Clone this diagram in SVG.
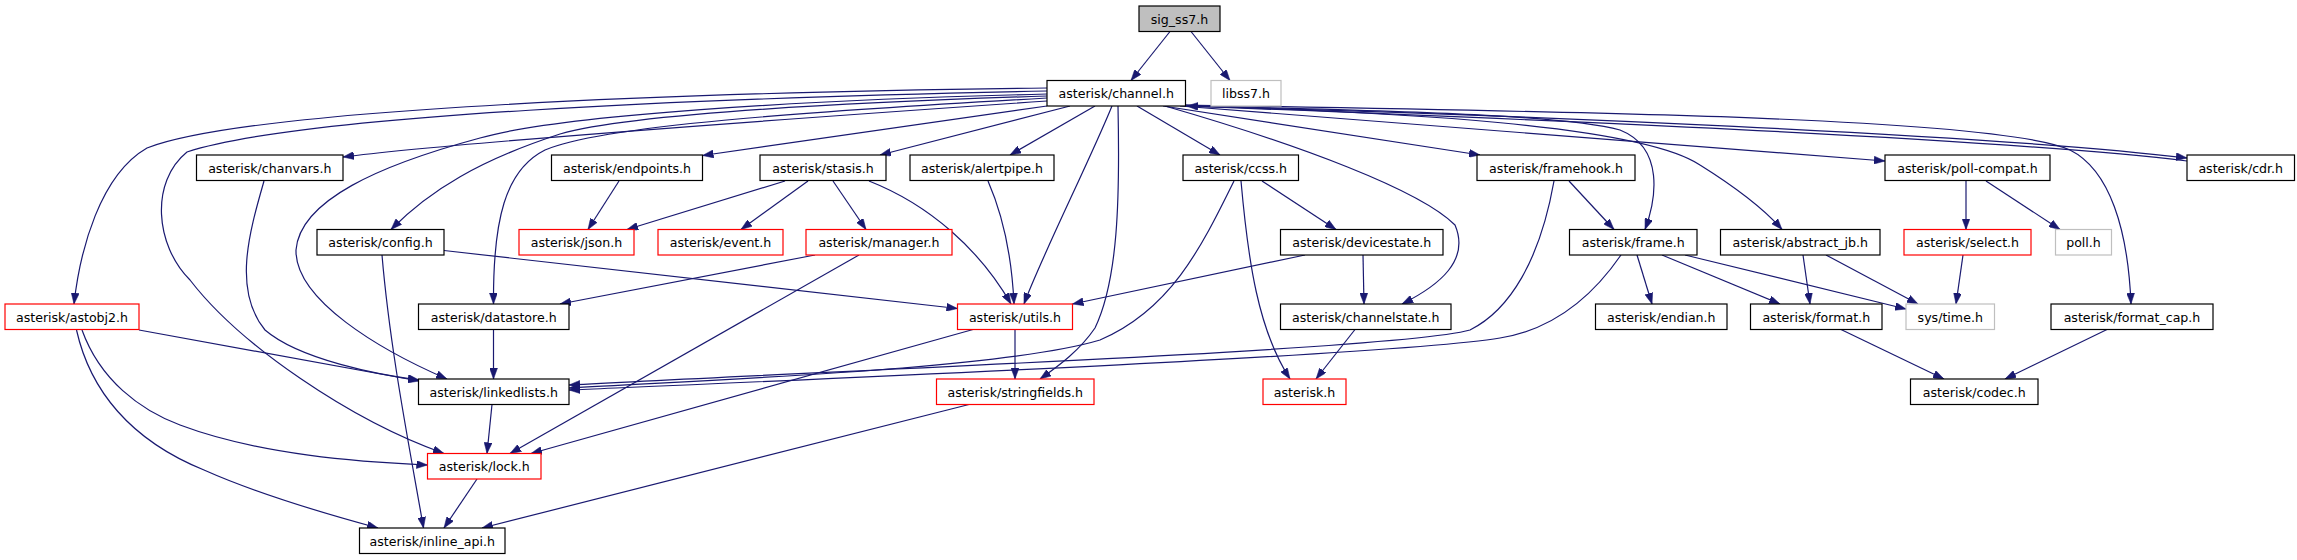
<svg xmlns="http://www.w3.org/2000/svg" width="2297" height="560" viewBox="0 0 2297 560">
<style>
.n rect{fill:#ffffff;stroke:#000000;stroke-width:1.2}
.n.red rect{stroke:#ff0000}
.n.gray rect{stroke:#bfbfbf}
.n.root rect{fill:#bfbfbf}
.n text{font-family:"DejaVu Sans",sans-serif;font-size:12.6px;fill:#000000;text-anchor:middle}
#edges path{fill:none;stroke:#191970;stroke-width:1.2;marker-end:url(#ah)}
</style>
<defs>
<marker id="ah" markerUnits="userSpaceOnUse" markerWidth="11" markerHeight="8" refX="11" refY="4" orient="auto">
<path d="M0,0 L11,4 L0,8 z" fill="#191970" stroke="#191970" stroke-width="0.5"/>
</marker>
</defs>
<rect width="2297" height="560" fill="#ffffff"/>
<g id="edges">
<path d="M1170,31.5 L1131,80.5"/>
<path d="M1191,31.5 L1230,80.5"/>
<path d="M1047,88 C700,92 250,108 147,148 C100,175 80,250 74,304"/>
<path d="M1047,91 C700,98 300,115 187,152 C150,182 155,245 190,280 C240,345 350,420 444,453.5"/>
<path d="M1047,101 C800,118 450,143 343,157"/>
<path d="M1047,94 C800,100 560,115 480,138 C380,165 300,200 296,250 C295,300 380,350 447,379"/>
<path d="M1047,96 C800,104 620,117 560,134 C480,160 430,190 391,229.5"/>
<path d="M1047,98 C800,112 600,126 545,150 C505,170 493,220 493.5,304"/>
<path d="M1047,106 L702.5,155.5"/>
<path d="M1070,106 L880,155"/>
<path d="M1095,106 L1010,155"/>
<path d="M1112,106 C1090,160 1040,260 1024,304"/>
<path d="M1118,106 C1120,200 1118,280 1095,328 C1080,350 1060,365 1040,379"/>
<path d="M1137,106 L1220,155"/>
<path d="M1165,106 C1300,145 1420,190 1455,225 C1470,260 1440,285 1402,304"/>
<path d="M1163,106 L1480,155"/>
<path d="M1185,105 C1300,110 1550,111 1620,130 C1665,148 1656,200 1645,229.5"/>
<path d="M1185,106 C1400,112 1640,125 1700,165 C1740,190 1765,210 1782,229.5"/>
<path d="M1180,106 L1885,161"/>
<path d="M1185,106 C1500,114 2000,135 2187,158"/>
<path d="M2187,161 C2000,138 1500,118 1187,106"/>
<path d="M1185,105 C1600,112 2000,118 2070,150 C2110,170 2128,230 2131,304"/>
<path d="M264,181 C250,230 232,290 265,330 C300,360 380,375 419,380"/>
<path d="M619,181 L588,229.5"/>
<path d="M785,181 L627,229.5"/>
<path d="M808,181 L741,229.5"/>
<path d="M833,181 L866,229.5"/>
<path d="M869,181 C930,205 980,250 1011,304"/>
<path d="M988,181 C1005,220 1012,260 1014,304"/>
<path d="M444,250.5 L957.5,308.5"/>
<path d="M382,255 C390,350 410,450 423.5,528"/>
<path d="M815,255 L560,304"/>
<path d="M859,255 L510,453.5"/>
<path d="M1262,181 L1336,229.5"/>
<path d="M1241,181 C1248,260 1258,330 1290,379"/>
<path d="M1234,181 C1200,250 1170,310 1100,340 C1000,370 700,380 569,388"/>
<path d="M1305,255 L1072.5,304"/>
<path d="M1363,255 L1364,304"/>
<path d="M1355,329.5 L1316,379"/>
<path d="M1569,181 L1614,229.5"/>
<path d="M1554,181 C1540,260 1510,310 1470,330 C1400,350 800,372 569,385"/>
<path d="M1621,255 C1590,300 1550,330 1500,338 C1400,355 800,380 569,390"/>
<path d="M1637,255 L1652,304"/>
<path d="M1662,255 L1780,304"/>
<path d="M1685,255 L1906,309"/>
<path d="M1803,255 L1810,304"/>
<path d="M1826,255 L1918,304"/>
<path d="M1966,181 L1966,229.5"/>
<path d="M1986,181 L2060,229.5"/>
<path d="M1963,255 L1956,304"/>
<path d="M1841,329.5 L1944,379"/>
<path d="M2107,329.5 L2005,379"/>
<path d="M139,330 L419,381"/>
<path d="M82,330 C100,380 140,410 180,425 C260,455 360,462 427.5,465"/>
<path d="M76.5,330 C90,390 130,440 204,470 C260,495 330,515 378,528"/>
<path d="M493.5,329.5 L493.5,379"/>
<path d="M492,404.5 L487,453.5"/>
<path d="M477,479 L444,528"/>
<path d="M1015,329.5 L1015,379"/>
<path d="M973,329.5 L531,453.5"/>
<path d="M969,404.5 L482,528"/>
</g>
<g id="n_sig" class="n root"><rect x="1139" y="6" width="81" height="25.5"/><text x="1179.5" y="23.8">sig_ss7.h</text></g>
<g id="n_channel" class="n"><rect x="1047" y="80.5" width="138.5" height="25.5"/><text x="1116.25" y="98.3">asterisk/channel.h</text></g>
<g id="n_libss7" class="n gray"><rect x="1211" y="80.5" width="70" height="25.5"/><text x="1246" y="98.3">libss7.h</text></g>
<g id="n_chanvars" class="n"><rect x="196.5" y="155" width="146.5" height="25.5"/><text x="269.75" y="172.8">asterisk/chanvars.h</text></g>
<g id="n_endpoints" class="n"><rect x="551.5" y="155" width="151" height="25.5"/><text x="627" y="172.8">asterisk/endpoints.h</text></g>
<g id="n_stasis" class="n"><rect x="760" y="155" width="126" height="25.5"/><text x="823" y="172.8">asterisk/stasis.h</text></g>
<g id="n_alertpipe" class="n"><rect x="910" y="155" width="144" height="25.5"/><text x="982" y="172.8">asterisk/alertpipe.h</text></g>
<g id="n_ccss" class="n"><rect x="1183" y="155" width="115.5" height="25.5"/><text x="1240.75" y="172.8">asterisk/ccss.h</text></g>
<g id="n_framehook" class="n"><rect x="1477" y="155" width="158" height="25.5"/><text x="1556" y="172.8">asterisk/framehook.h</text></g>
<g id="n_pollcompat" class="n"><rect x="1885" y="155" width="165" height="25.5"/><text x="1967.5" y="172.8">asterisk/poll-compat.h</text></g>
<g id="n_cdr" class="n"><rect x="2187" y="155" width="107.5" height="25.5"/><text x="2240.75" y="172.8">asterisk/cdr.h</text></g>
<g id="n_config" class="n"><rect x="317" y="229.5" width="127" height="25.5"/><text x="380.5" y="247.3">asterisk/config.h</text></g>
<g id="n_json" class="n red"><rect x="519" y="229.5" width="115" height="25.5"/><text x="576.5" y="247.3">asterisk/json.h</text></g>
<g id="n_event" class="n red"><rect x="658" y="229.5" width="125" height="25.5"/><text x="720.5" y="247.3">asterisk/event.h</text></g>
<g id="n_manager" class="n red"><rect x="806" y="229.5" width="146" height="25.5"/><text x="879" y="247.3">asterisk/manager.h</text></g>
<g id="n_devicestate" class="n"><rect x="1280.5" y="229.5" width="162.5" height="25.5"/><text x="1361.75" y="247.3">asterisk/devicestate.h</text></g>
<g id="n_frame" class="n"><rect x="1569.5" y="229.5" width="127.5" height="25.5"/><text x="1633.25" y="247.3">asterisk/frame.h</text></g>
<g id="n_abstractjb" class="n"><rect x="1720.5" y="229.5" width="159.5" height="25.5"/><text x="1800.25" y="247.3">asterisk/abstract_jb.h</text></g>
<g id="n_select" class="n red"><rect x="1904" y="229.5" width="127" height="25.5"/><text x="1967.5" y="247.3">asterisk/select.h</text></g>
<g id="n_poll" class="n gray"><rect x="2055.5" y="229.5" width="56" height="25.5"/><text x="2083.5" y="247.3">poll.h</text></g>
<g id="n_astobj2" class="n red"><rect x="5" y="304" width="134" height="25.5"/><text x="72" y="321.8">asterisk/astobj2.h</text></g>
<g id="n_datastore" class="n"><rect x="418.5" y="304" width="150.5" height="25.5"/><text x="493.75" y="321.8">asterisk/datastore.h</text></g>
<g id="n_utils" class="n red"><rect x="957.5" y="304" width="115" height="25.5"/><text x="1015" y="321.8">asterisk/utils.h</text></g>
<g id="n_channelstate" class="n"><rect x="1280.5" y="304" width="170.5" height="25.5"/><text x="1365.75" y="321.8">asterisk/channelstate.h</text></g>
<g id="n_endian" class="n"><rect x="1595.5" y="304" width="131.5" height="25.5"/><text x="1661.25" y="321.8">asterisk/endian.h</text></g>
<g id="n_format" class="n"><rect x="1750.5" y="304" width="131.5" height="25.5"/><text x="1816.25" y="321.8">asterisk/format.h</text></g>
<g id="n_systime" class="n gray"><rect x="1906" y="304" width="88.5" height="25.5"/><text x="1950.25" y="321.8">sys/time.h</text></g>
<g id="n_formatcap" class="n"><rect x="2051" y="304" width="162" height="25.5"/><text x="2132" y="321.8">asterisk/format_cap.h</text></g>
<g id="n_linkedlists" class="n"><rect x="418.5" y="379" width="150.5" height="25.5"/><text x="493.75" y="396.8">asterisk/linkedlists.h</text></g>
<g id="n_stringfields" class="n red"><rect x="936.5" y="379" width="157.5" height="25.5"/><text x="1015.25" y="396.8">asterisk/stringfields.h</text></g>
<g id="n_asteriskh" class="n red"><rect x="1263" y="379" width="83" height="25.5"/><text x="1304.5" y="396.8">asterisk.h</text></g>
<g id="n_codec" class="n"><rect x="1910.5" y="379" width="127.5" height="25.5"/><text x="1974.25" y="396.8">asterisk/codec.h</text></g>
<g id="n_lock" class="n red"><rect x="427.5" y="453.5" width="113.5" height="25.5"/><text x="484.25" y="471.3">asterisk/lock.h</text></g>
<g id="n_inlineapi" class="n"><rect x="359.5" y="528" width="145.5" height="25.5"/><text x="432.25" y="545.8">asterisk/inline_api.h</text></g>
</svg>
